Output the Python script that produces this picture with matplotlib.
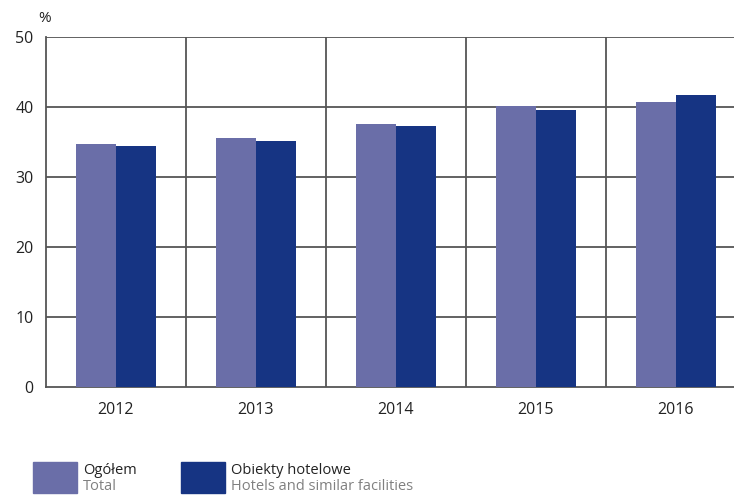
import matplotlib
matplotlib.use("Agg")
from matplotlib import pyplot as plt
from matplotlib.patches import Rectangle
import numpy as np

years = ["2012", "2013", "2014", "2015", "2016"]
total = [34.7, 35.6, 37.6, 40.1, 40.7]
hotels = [34.4, 35.1, 37.3, 39.6, 41.7]

light = "#6a6ea8"
dark = "#163483"
grid = "#555555"

plt.rcParams['font.family'] = ['Open Sans', 'DejaVu Sans']

W, H = 734, 495
fig = plt.figure(figsize=(W / 100, H / 100), dpi=100)
# axes box runs past the right edge like in the original
ax = fig.add_axes([46 / W, 1 - 387 / H, 700 / W, 350 / H])

x = np.arange(len(years))
bw = 40 / 140
ax.bar(x - bw / 2, total, bw, color=light, zorder=3)
ax.bar(x + bw / 2, hotels, bw, color=dark, zorder=3)

ax.set_xlim(-0.5, len(years) - 0.5)
ax.set_ylim(0, 50)
ax.set_yticks(range(0, 51, 10))
ax.set_xticks(x)
ax.set_xticklabels(years)

for y in range(10, 51, 10):
    ax.axhline(y, color=grid, lw=1.3, zorder=1)
for xv in x[1:] - 0.5:
    ax.axvline(xv, color=grid, lw=1.3, zorder=1)

for s in ["top", "right"]:
    ax.spines[s].set_visible(False)
ax.spines["left"].set_color(grid)
ax.spines["left"].set_linewidth(1.3)
ax.spines["bottom"].set_color(grid)
ax.spines["bottom"].set_linewidth(1.3)
ax.tick_params(length=0, labelsize=11.5, colors="#222222")
ax.tick_params(axis="y", pad=9)
ax.tick_params(axis="x", pad=11)

fig.text(38 / W, 1 - 18 / H, "%", fontsize=11, color="#222222", va="center")

# legend
items = [(33, light, "Ogółem", "Total"),
         (181, dark, "Obiekty hotelowe", "Hotels and similar facilities")]
for px, c, pl, en in items:
    fig.patches.append(Rectangle((px / W, 1 - 493 / H), 44 / W, 31 / H,
                                 color=c, transform=fig.transFigure))
    fig.text((px + 50) / W, 1 - 470 / H, pl, fontsize=10.5, color="#222222", va="center")
    fig.text((px + 50) / W, 1 - 486 / H, en, fontsize=10.5, color="#808080", va="center")

fig.savefig("out.png", dpi=100)
